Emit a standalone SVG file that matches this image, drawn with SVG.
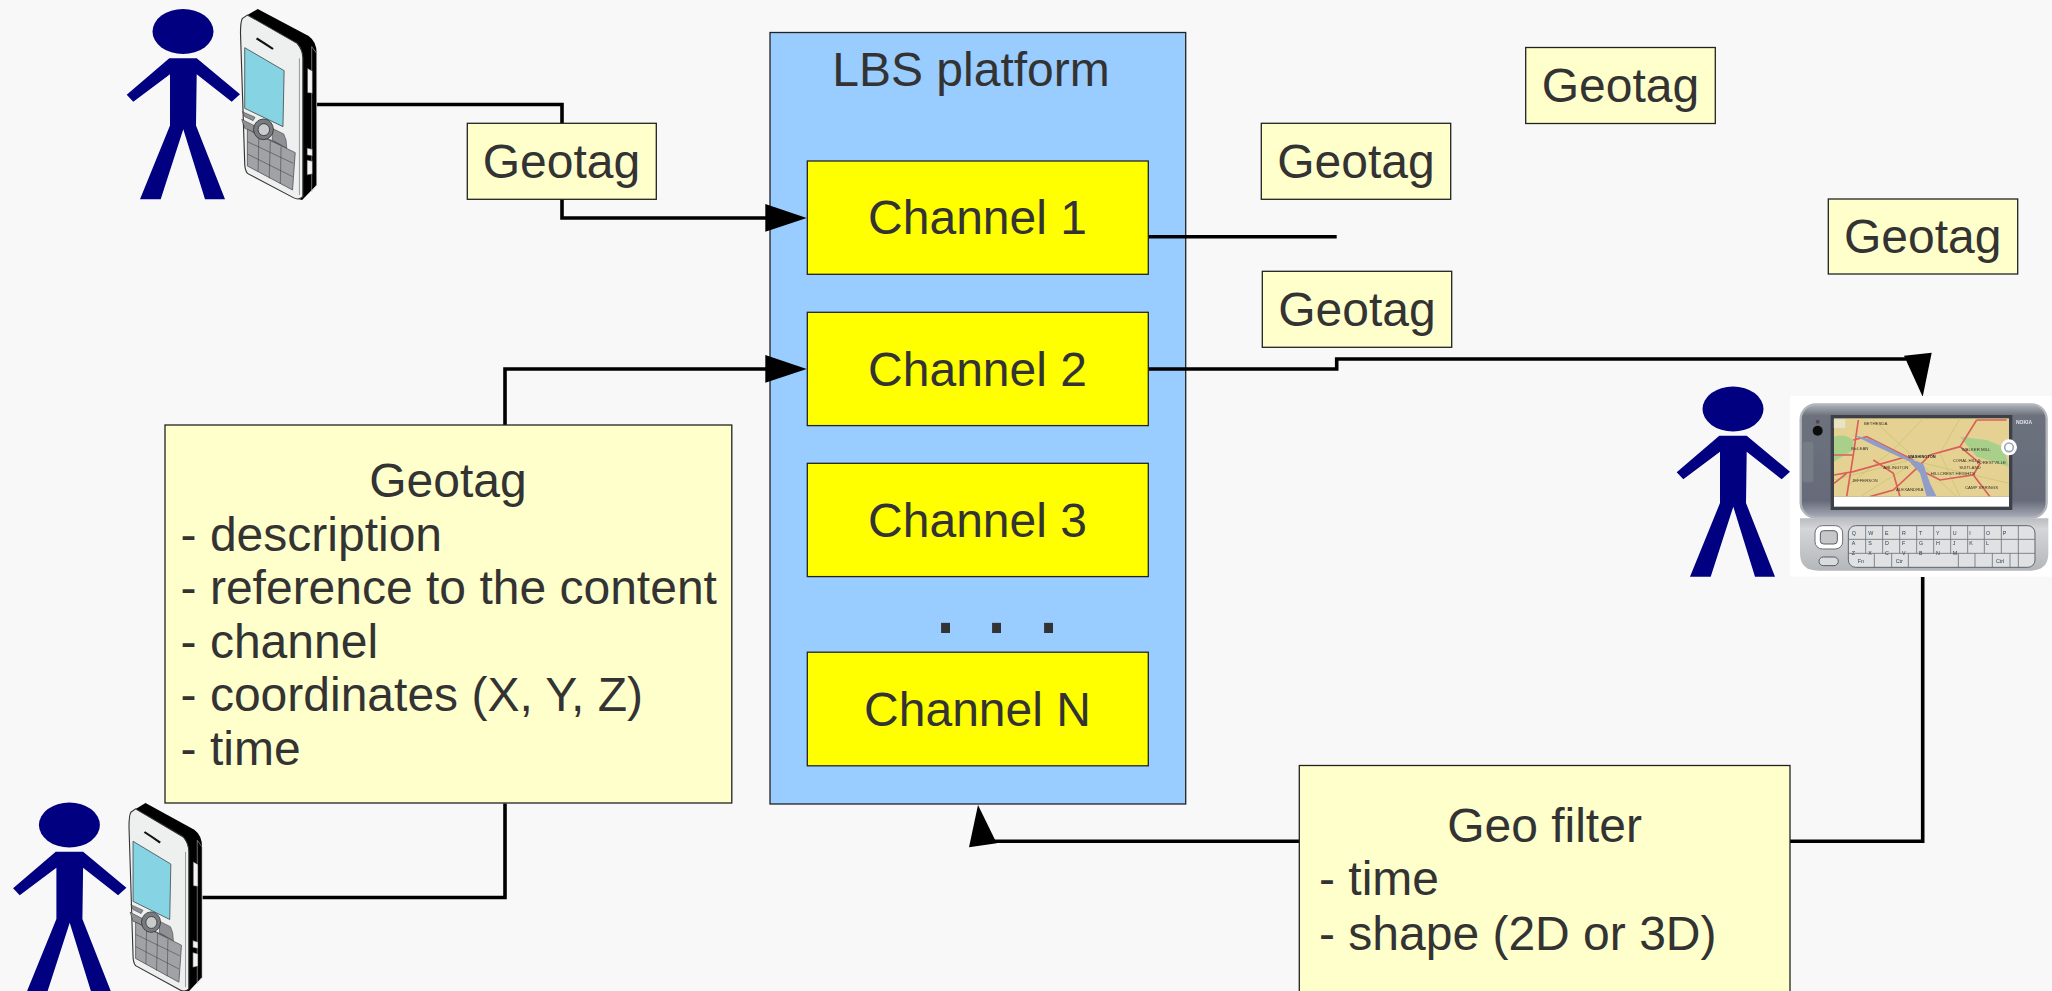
<svg xmlns="http://www.w3.org/2000/svg" width="2052" height="991" viewBox="0 0 2052 991">
<style>
text{font-family:"Liberation Sans",Arial,sans-serif;fill:#333333}
.t{font-size:48px}
.m{text-anchor:middle}
.box{fill:#ffffcc;stroke:#222222;stroke-width:1.3}
.ch{fill:#ffff00;stroke:#222222;stroke-width:1.3}
.lbs{fill:#99ccff;stroke:#222222;stroke-width:1.3}
.ln{fill:none;stroke:#000000;stroke-width:3.6}
.ah{fill:#000000}
.k{font-size:16px;fill:#2f4258}
.mp{font-size:13px;fill:#3a3226}
.kk{fill:#dfe1e2;stroke:#5f646c;stroke-width:3}
.rd{fill:none;stroke:#d9605a;stroke-width:5}
.yr{fill:none;stroke:#cfc777;stroke-width:3}
</style>
<defs>
<linearGradient id="gU" x1="0" y1="0" x2="0" y2="1"><stop offset="0" stop-color="#aeb2b8"/><stop offset=".1" stop-color="#6c717d"/><stop offset=".85" stop-color="#666b79"/><stop offset="1" stop-color="#a9acb8"/></linearGradient>
<linearGradient id="gL" x1="0" y1="0" x2="0" y2="1"><stop offset="0" stop-color="#b9bcc0"/><stop offset=".2" stop-color="#d4d6d8"/><stop offset="1" stop-color="#b4b7ba"/></linearGradient>
<filter id="soft" x="-5%" y="-5%" width="110%" height="110%"><feGaussianBlur stdDeviation="1.2"/></filter>
<g id="person" fill="#000080">
<ellipse cx="0" cy="0" rx="30.5" ry="22.5"/>
<polygon points="-13.7,26.7 13.7,26.7 57,62.7 48.7,70.3 13.7,42.7 13,94 42,167.7 22,167.7 0.3,97.7 -22.3,167.7 -43,167.7 -13,94 -13,42.7 -49.7,70.3 -56.3,63.3"/>
</g>
<g id="phone">
<path d="M385,45 L412,27 L545,108 Q566,125 566,160 L566,555 L528,600 L510,595 Z" fill="#000000"/>
<path d="M372,55 L385,45 L515,130 Q530,150 530,175 L530,590 Q520,602 505,593 L385,520 Q378,510 378,490 L367,100 Q367,65 372,55 Z" fill="#eef0f0" stroke="#333333" stroke-width="3"/>
<path d="M553,140 L566,160 L566,555 L553,575 Z" fill="none" stroke="#c9c9c9" stroke-width="1.5"/>
<path d="M521,175 L521,585" fill="none" stroke="#777777" stroke-width="2"/>
<path d="M409,115 Q430,130 452,147" fill="none" stroke="#111111" stroke-width="6"/>
<polygon points="378,143 481,212 478,380 378,325" fill="#85d3e3" stroke="#333333" stroke-width="2"/>
<path d="M372,335 L405,352 L400,362 L378,350 Z M370,358 L405,378 L425,415 L484,440 L486,440 L378,385 Z" fill="#8f9195" stroke="#333333" stroke-width="1.5"/>
<path d="M450,385 L480,402 L486,420 L488,445 L450,420 Z" fill="#8f9195" stroke="#333333" stroke-width="1.5"/>
<polygon points="385,388 510,458 503,570 385,498" fill="#a0a2a6" stroke="#444444" stroke-width="2"/>
<path d="M415,405 L413,515 M445,422 L442,535 M473,440 L471,552 M385,425 L505,490 M385,462 L503,530" fill="none" stroke="#3c3c3c" stroke-width="1.5"/>
<ellipse cx="427" cy="388" rx="26" ry="31" fill="#777a7e" stroke="#222222" stroke-width="2"/>
<ellipse cx="428" cy="389" rx="15" ry="18" fill="#c8cacc" stroke="#222222" stroke-width="2"/>
<path d="M542,205 L555,213 L555,280 L542,278 Z M541,444 L555,448 L555,468 L541,465 Z M541,480 L555,484 L555,522 L541,525 Z" fill="#f2f2f2" stroke="#333333" stroke-width="1.5"/>
</g>
</defs>
<rect width="2052" height="991" fill="#f8f8f8"/>

<g id="lbs-platform">
<rect class="lbs" x="770" y="32.500" width="415.700" height="771.500"/>
<text class="t m" x="971" y="85.700">LBS platform</text>
</g>

<g id="connectors">
<path class="ln" d="M317,104.500 H562 V218 H770"/>
<path class="ln" d="M505,425 V369 H770"/>
<path class="ln" d="M202.500,897.500 H505 V803.500"/>
<path class="ln" d="M1148.300,236.700 H1336.700"/>
<path class="ln" d="M1148.300,369 H1336.700 V359 H1906"/>
<path class="ln" d="M1922.700,577 V841.200 H993"/>
<polygon class="ah" points="806.700,218 765.300,204 765.300,231.700"/>
<polygon class="ah" points="806.700,369 765.300,355 765.300,382.700"/>
<polygon class="ah" points="1922.700,396.700 1931.700,352.700 1904,355.700"/>
<polygon class="ah" points="978,805 969,847.300 996.700,843.300"/>
</g>

<g id="channel-1"><rect class="ch" x="807.300" y="161" width="341" height="113.300"/><text class="t m" x="977.500" y="234.300">Channel 1</text></g>
<g id="channel-2"><rect class="ch" x="807.300" y="312.300" width="341" height="113.300"/><text class="t m" x="977.500" y="385.700">Channel 2</text></g>
<g id="channel-3"><rect class="ch" x="807.300" y="463.300" width="341" height="113.300"/><text class="t m" x="977.500" y="536.700">Channel 3</text></g>
<g id="channel-dots"><text x="932.400 983.500 1035.500" y="633" style="font-size:94px">...</text></g>
<g id="channel-n"><rect class="ch" x="807.300" y="652.200" width="341" height="113.600"/><text class="t m" x="977.500" y="725.700">Channel N</text></g>

<g id="geotag-1"><rect class="box" x="467.300" y="123.300" width="189" height="76"/><text class="t m" x="561.500" y="177.700">Geotag</text></g>
<g id="geotag-2"><rect class="box" x="1261.300" y="123.300" width="189.400" height="76"/><text class="t m" x="1356" y="177.700">Geotag</text></g>
<g id="geotag-3"><rect class="box" x="1262.300" y="271.300" width="189.400" height="76"/><text class="t m" x="1357" y="325.700">Geotag</text></g>
<g id="geotag-4"><rect class="box" x="1525.700" y="47.500" width="189.600" height="76"/><text class="t m" x="1620.500" y="101.700">Geotag</text></g>
<g id="geotag-5"><rect class="box" x="1828.300" y="199" width="189.400" height="75"/><text class="t m" x="1922.700" y="253.400">Geotag</text></g>

<g id="geotag-detail">
<rect class="box" x="165" y="425" width="566.800" height="378"/>
<text class="t m" x="448" y="497">Geotag</text>
<text class="t" x="180.600" y="550.800">- description</text>
<text class="t" x="180.600" y="604.200">- reference to the content</text>
<text class="t" x="180.600" y="657.800">- channel</text>
<text class="t" x="180.600" y="711">- coordinates (X, Y, Z)</text>
<text class="t" x="180.600" y="764.800">- time</text>
</g>

<g id="geo-filter">
<rect class="box" x="1299.300" y="765.500" width="490.700" height="240"/>
<text class="t m" x="1544.500" y="841.500">Geo filter</text>
<text class="t" x="1319" y="895">- time</text>
<text class="t" x="1319" y="949.500">- shape (2D or 3D)</text>
</g>

<g id="user-sender-1">
<use href="#person" x="183" y="31.500"/>
<use href="#phone" transform="translate(240.500,9) scale(.3827,.3333) translate(-367,-27)"/>
</g>
<g id="user-sender-2">
<use href="#person" x="69.400" y="825"/>
<use href="#phone" transform="translate(129,803) scale(.3670,.3300) translate(-367,-27)"/>
</g>
<g id="user-receiver">
<use href="#person" x="1733" y="409"/>
<g transform="translate(1640,340) scale(.33333)" filter="url(#soft)">
<rect x="450" y="168" width="787" height="542" fill="#ffffff"/>
<rect x="482" y="193" width="738" height="340" rx="45" fill="url(#gU)" stroke="#b2b5ba" stroke-width="7"/>
<path d="M480,535 H1225 V640 Q1225,692 1170,692 H535 Q480,692 480,640 Z" fill="url(#gL)"/>
<rect x="572" y="225" width="545" height="285" fill="#3d4049"/>
<rect x="582" y="235" width="525" height="235" fill="#e5d293"/>
<path d="M582,290 Q610,280 640,300 L640,330 L582,365 Z M960,290 L1040,300 L1090,320 L1107,380 L1010,350 Z" fill="#a9d08a"/>
<path class="yr" d="M620,440 L760,330 L850,235 M700,240 L820,350 L950,470 M582,420 L810,360 L1107,430 M960,235 L900,340 L960,470 M660,470 L820,370"/>
<path class="rd" d="M582,345 L640,345 L655,240 M640,300 L680,290 L820,360 M640,345 L620,470 M582,405 L640,395 L800,350 L830,385 L870,345 L960,320 L1010,240 M830,385 L760,450 L690,470 M830,385 L900,420 L1000,405 L1050,470 M1010,240 L1100,240 M960,320 L1020,370 L1000,405 M582,430 L620,400 M700,360 L760,400 L780,470"/>
<path d="M640,285 L700,300 L800,352 L850,372 L870,430 L890,470 L860,470 L840,400 L810,365 L700,315 Z" fill="#8f9dc8"/>
<circle cx="1107" cy="322" r="24" fill="#ffffff"/>
<circle cx="1107" cy="322" r="13" fill="none" stroke="#9aa8b8" stroke-width="5"/>
<rect x="582" y="238" width="34" height="26" fill="#e9e4c2" stroke="#cdd6dc"/>
<rect x="582" y="470" width="525" height="30" fill="#ffffff"/>
<circle cx="533" cy="272" r="15" fill="#101010"/>
<circle cx="533" cy="245" r="6" fill="#4f4c4c"/>
<rect x="488" y="305" width="32" height="122" rx="8" fill="#767c86"/>
<rect x="525" y="557" width="83" height="70" rx="22" fill="#ffffff" stroke="#6a6e74" stroke-width="3"/>
<rect x="541" y="572" width="51" height="40" rx="10" fill="#c5c7c9" stroke="#5a5d62" stroke-width="3"/>
<rect x="537" y="651" width="58" height="26" rx="13" fill="#d9dbdc" stroke="#565a60" stroke-width="3"/>
<rect class="kk" x="625" y="557" width="560" height="125" rx="22"/>
<path d="M625,598 H1185 M625,640 H1185 M677,557 V640 M728,557 V640 M779,557 V640 M830,557 V640 M881,557 V640 M932,557 V640 M983,557 V640 M1033,557 V640 M1084,557 V640 M1135,557 V682 M703,640 V682 M755,640 V682 M805,640 V682 M955,640 V682 M1005,640 V682 M1057,640 V682 M1110,640 V682" fill="none" stroke="#6f747b" stroke-width="2.500"/>
<text class="mp" x="805" y="355" style="font-size:12px;font-weight:bold;fill:#222222">WASHINGTON</text>
<text class="mp" x="672" y="254">BETHESDA</text>
<text class="mp" x="634" y="330">McLEAN</text>
<text class="mp" x="730" y="388">ARLINGTON</text>
<text class="mp" x="636" y="426">JEFFERSON</text>
<text class="mp" x="768" y="453">ALEXANDRIA</text>
<text class="mp" x="965" y="332">WALKER MILL</text>
<text class="mp" x="938" y="366">CORAL HILLS</text>
<text class="mp" x="1010" y="372">FORESTVILLE</text>
<text class="mp" x="958" y="386">SUITLAND</text>
<text class="mp" x="872" y="404">HILLCREST HEIGHTS</text>
<text class="mp" x="975" y="447">CAMP SPRINGS</text>
<text x="1128" y="253" style="font-size:15px;font-weight:bold;fill:#e0e3e8">NOKIA</text>
<text class="k" x="635 685 735 786 837 888 938 988 1038 1088" y="584">QWERTYUIOP</text>
<text class="k" x="635 685 735 786 837 888 938 988 1038" y="616">ASDFGHJKL</text>
<text class="k" x="635 685 735 786 837 888 938" y="646">ZXCVBNM</text>
<text class="k" x="653" y="668">Fn</text>
<text class="k" x="767" y="668">Ctr</text>
<text class="k" x="1068" y="668">Ctrl</text>
</g>
</g>
</svg>
